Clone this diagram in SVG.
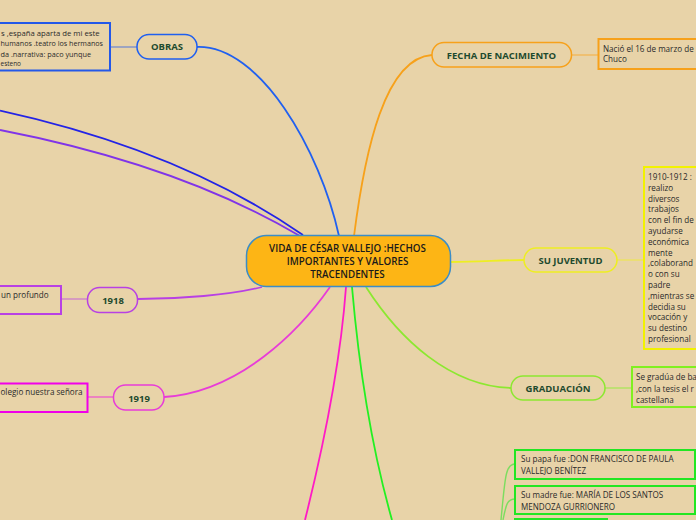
<svg xmlns="http://www.w3.org/2000/svg" width="696" height="520" viewBox="0 0 696 520">
<style>
.bg{fill:#E8D3A8}
.node{fill:none;stroke-width:1.5}
.box{fill:none;stroke-width:2}
.lbl{font-family:"Open Sans","Noto Sans",sans-serif;font-weight:bold;font-size:9.5px;fill:#1E4A2E;text-anchor:middle}
.main{font-family:"Open Sans","Noto Sans",sans-serif;font-weight:600;font-size:9.8px;fill:#1A1A1A;text-anchor:middle}
.txt{font-family:"Open Sans","Noto Sans",sans-serif;font-size:8.1px;fill:#2A2A2A}
.sm{font-size:7.6px}
.c{fill:none;stroke-width:1.8}
.s{fill:none;stroke-width:1.4;stroke-opacity:0.55}
</style>
<rect class="bg" x="0" y="0" width="696" height="520"/>
<g id="connectors">
  <path class="c" stroke="#2323E6" d="M303,235 Q180,150 0,110.7"/>
  <path class="c" stroke="#8034E8" d="M300,236 Q180,165 0,130"/>
  <path class="c" stroke="#2060F0" d="M339,236 C320,150 260,45 197,47"/>
  <path class="c" stroke="#F7A11A" d="M354,236 C365,150 385,58 432,55"/>
  <path class="c" stroke="#EEEE22" d="M450,262 C480,262 500,260 524,260"/>
  <path class="c" stroke="#8CE830" d="M366,287 C400,340 450,386 511,388"/>
  <path class="c" stroke="#22F022" d="M352,287 C360,380 375,460 392,520"/>
  <path class="c" stroke="#FF1AC6" d="M346,287 C340,370 320,460 305,520"/>
  <path class="c" stroke="#E83CD8" d="M330,287 C300,330 240,392 164,397"/>
  <path class="c" stroke="#B840E4" d="M262,287 C230,295 180,299 138,299"/>
  <path class="s" stroke="#2458E8" d="M110,47 L137,47"/>
  <path class="s" stroke="#F7A11A" d="M571,55 L598,55"/>
  <path class="s" stroke="#EEEE22" d="M617,260 L644,260"/>
  <path class="s" stroke="#80F020" d="M605,388 L632,388"/>
  <path class="s" stroke="#B840E4" d="M61,299 L87,299"/>
  <path class="s" stroke="#F000E8" d="M87,397 L113,397"/>
  <path class="s" stroke="#22E622" d="M501,520 C505,480 505,464 515,464"/>
  <path class="s" stroke="#22E622" d="M503,520 C506,505 507,499 515,499"/>
</g>
<g id="central">
  <rect x="246.5" y="235.5" width="204" height="51" rx="20" fill="#FDB515" stroke="#3A8DC8" stroke-width="1.5"/>
  <text class="main" x="347.5" y="252">VIDA DE CÉSAR VALLEJO :HECHOS</text>
  <text class="main" x="347.5" y="265">IMPORTANTES Y VALORES</text>
  <text class="main" x="347.5" y="278">TRACENDENTES</text>
</g>
<g id="obras">
  <rect class="node" x="137" y="34.5" width="60" height="24.5" rx="12" stroke="#1F5FF0"/>
  <text class="lbl" x="167" y="50">OBRAS</text>
</g>
<g id="obras-text">
  <rect class="box" x="-10" y="23" width="120" height="47.5" stroke="#2458E8"/>
  <text class="txt sm" x="1" y="35.5" textLength="98.5" lengthAdjust="spacingAndGlyphs">s ,españa aparta de mi este</text>
  <text class="txt sm" x="0.5" y="46" textLength="102.5" lengthAdjust="spacingAndGlyphs">humanos .teatro los hermanos</text>
  <text class="txt sm" x="0.5" y="56.5" textLength="90.5" lengthAdjust="spacingAndGlyphs">da .narrativa: paco yunque</text>
  <text class="txt sm" x="0.5" y="65.5" textLength="20.5" lengthAdjust="spacingAndGlyphs">esteno</text>
</g>
<g id="fecha">
  <rect class="node" x="432" y="42.5" width="139.5" height="24.5" rx="12" stroke="#F7A11A"/>
  <text class="lbl" x="501.5" y="58.5">FECHA DE NACIMIENTO</text>
</g>
<g id="fecha-text">
  <rect class="box" x="598.5" y="39" width="110" height="30" stroke="#F7A11A"/>
  <text class="txt" x="603" y="51.5">Nació el 16 de marzo de</text>
  <text class="txt" x="603" y="62">Chuco</text>
</g>
<g id="juventud">
  <rect class="node" x="524" y="248" width="93" height="24" rx="12" stroke="#EEEE22"/>
  <text class="lbl" x="570.5" y="263.5">SU JUVENTUD</text>
</g>
<g id="juventud-text">
  <rect class="box" x="644" y="167" width="70" height="182" stroke="#F2F200"/>
  <text class="txt" x="648" y="180">1910-1912 :</text>
  <text class="txt" x="648" y="190.8">realizo</text>
  <text class="txt" x="648" y="201.6">diversos</text>
  <text class="txt" x="648" y="212.4">trabajos</text>
  <text class="txt" x="648" y="223.2">con el fin de</text>
  <text class="txt" x="648" y="234">ayudarse</text>
  <text class="txt" x="648" y="244.8">económica</text>
  <text class="txt" x="648" y="255.6">mente</text>
  <text class="txt" x="648" y="266.4">,colaborand</text>
  <text class="txt" x="648" y="277.2">o con su</text>
  <text class="txt" x="648" y="288">padre</text>
  <text class="txt" x="648" y="298.8">,mientras se</text>
  <text class="txt" x="648" y="309.6">decidia su</text>
  <text class="txt" x="648" y="320.4">vocación y</text>
  <text class="txt" x="648" y="331.2">su destino</text>
  <text class="txt" x="648" y="342">profesional</text>
</g>
<g id="graduacion">
  <rect class="node" x="511" y="376" width="94" height="24" rx="12" stroke="#8CE830"/>
  <text class="lbl" x="558" y="391.5">GRADUACIÓN</text>
</g>
<g id="graduacion-text">
  <rect class="box" x="632" y="367" width="80" height="40" stroke="#80F020"/>
  <text class="txt" x="636" y="380">Se gradúa de ba</text>
  <text class="txt" x="636" y="391.5">,con la tesis el r</text>
  <text class="txt" x="636" y="403">castellana</text>
</g>
<g id="papa">
  <rect class="box" x="515" y="450" width="180" height="29" stroke="#22E622"/>
  <text class="txt" x="521" y="462">Su papa fue :DON FRANCISCO DE PAULA</text>
  <text class="txt" x="521" y="474">VALLEJO BENÍTEZ</text>
</g>
<g id="madre">
  <rect class="box" x="515" y="486" width="180" height="28" stroke="#22E622"/>
  <text class="txt" x="521" y="497.5">Su madre fue:  MARÍA DE LOS SANTOS</text>
  <text class="txt" x="521" y="509.5">MENDOZA GURRIONERO</text>
</g>
<g id="familia-3">
  <rect class="box" x="515" y="519" width="92" height="20" stroke="#22E622"/>
</g>
<g id="n1918">
  <rect class="node" x="87.5" y="287.5" width="50" height="25" rx="12" stroke="#B840E4"/>
  <text class="lbl" x="113" y="304">1918</text>
</g>
<g id="n1918-text">
  <rect class="box" x="-10" y="286" width="71" height="28" stroke="#B840E4"/>
  <text class="txt" x="1" y="297.5">un profundo</text>
</g>
<g id="n1919">
  <rect class="node" x="113.5" y="385" width="50.5" height="25" rx="12" stroke="#E83CD8"/>
  <text class="lbl" x="139" y="401.5">1919</text>
</g>
<g id="n1919-text">
  <rect class="box" x="-10" y="383.5" width="97.5" height="28.5" stroke="#F000E8"/>
  <text class="txt" x="0.5" y="394.5">olegio nuestra señora</text>
</g>
</svg>
